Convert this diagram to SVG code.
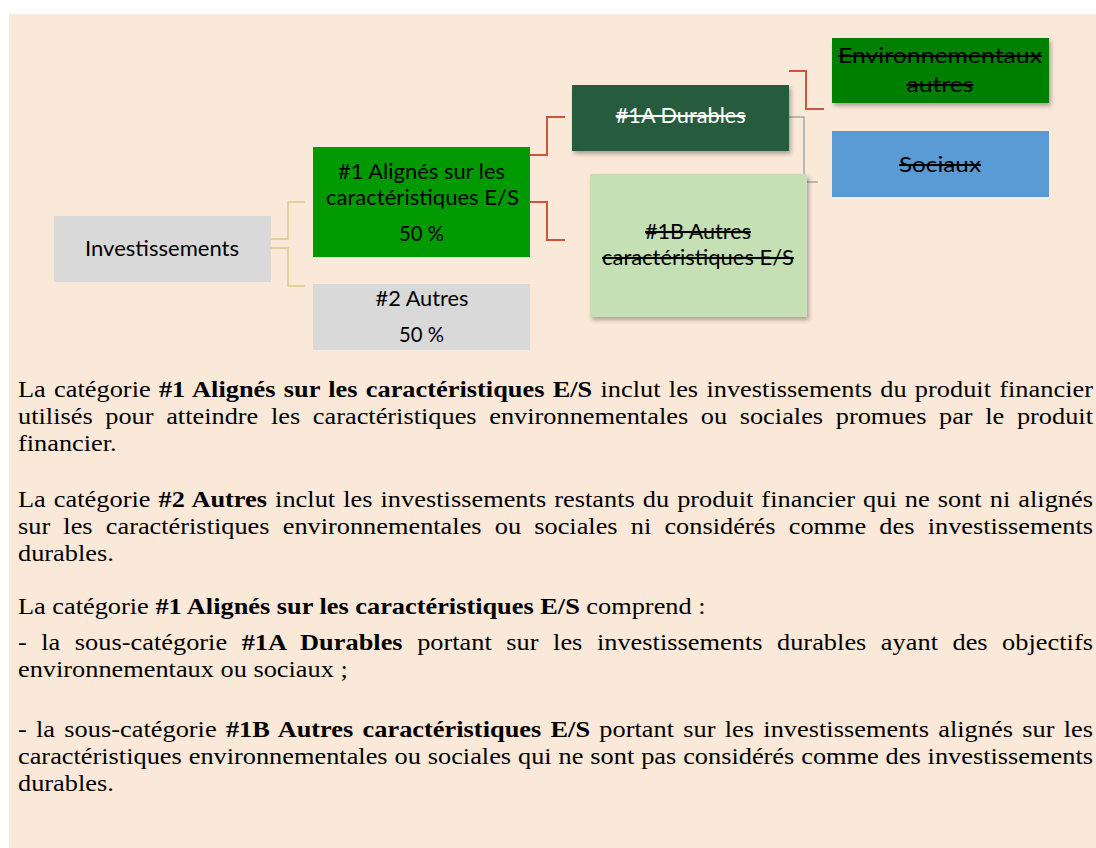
<svg xmlns="http://www.w3.org/2000/svg" width="1096" height="848" viewBox="0 0 1096 848">
<defs>
<filter id="sh" x="-10%" y="-10%" width="130%" height="140%">
<feDropShadow dx="2" dy="3" stdDeviation="2" flood-color="#000" flood-opacity="0.3"/>
</filter>
<style>
.lbl{font-family:Lato,"Liberation Sans",sans-serif;font-size:21px;fill:#000;text-anchor:middle}
.st{text-decoration:line-through}
.w{fill:#fff}
.yl{fill:none;stroke:#d6cc80;stroke-width:1.5}
.rd{fill:none;stroke:#d0543a;stroke-width:2}
.gy{fill:none;stroke:#a6a6a6;stroke-width:1.5}
.body{font-family:"Liberation Serif","Times New Roman",serif;font-size:22.7px;fill:#000}
.b{font-weight:bold}
</style>
</defs>
<rect x="0" y="0" width="1096" height="848" fill="#ffffff"/>
<rect x="9" y="14" width="1087" height="834" fill="#fae8d8"/>

<g id="connectors">
<path class="yl" d="M271,239 H288 V202 H305"/>
<path class="yl" d="M271,248 H288 V286 H305"/>
<path class="rd" d="M530,155 H547 V117 H565"/>
<path class="rd" d="M530,202 H547 V240 H565"/>
<path class="rd" d="M789,71 H806 V109 H824"/>
<path class="gy" d="M789,117 H804 V182 H818"/>
</g>

<g id="investissements">
<rect x="54" y="216" width="217" height="66" fill="#d9d9d9"/>
<text class="lbl" x="162" y="256" textLength="154" lengthAdjust="spacingAndGlyphs">Investissements</text>
</g>

<g id="n1">
<rect x="313" y="147" width="217" height="110" fill="#009900"/>
<text class="lbl" x="421.5" y="179" textLength="167" lengthAdjust="spacingAndGlyphs">#1 Alignés sur les</text>
<text class="lbl" x="422.5" y="205" textLength="193" lengthAdjust="spacingAndGlyphs">caractéristiques E/S</text>
<text class="lbl" x="421.5" y="241" textLength="45" lengthAdjust="spacingAndGlyphs">50 %</text>
</g>

<g id="n2">
<rect x="313" y="284" width="217" height="66" fill="#d9d9d9"/>
<text class="lbl" x="422" y="306" textLength="93" lengthAdjust="spacingAndGlyphs">#2 Autres</text>
<text class="lbl" x="421.5" y="342" textLength="45" lengthAdjust="spacingAndGlyphs">50 %</text>
</g>

<g id="n1a">
<rect x="572" y="85" width="217" height="66" fill="#265c3c" filter="url(#sh)"/>
<text class="lbl st w" x="680.7" y="123" textLength="130" lengthAdjust="spacingAndGlyphs">#1A Durables</text>
</g>

<g id="n1b">
<rect x="590" y="174" width="217" height="143" fill="#c5e0b4" filter="url(#sh)"/>
<text class="lbl st" x="698" y="239" textLength="106" lengthAdjust="spacingAndGlyphs">#1B Autres</text>
<text class="lbl st" x="698" y="265" textLength="192" lengthAdjust="spacingAndGlyphs">caractéristiques E/S</text>
</g>

<g id="env">
<rect x="832" y="38" width="217" height="65" fill="#008000" filter="url(#sh)"/>
<text class="lbl st" x="940" y="63" textLength="204" lengthAdjust="spacingAndGlyphs">Environnementaux</text>
<text class="lbl st" x="940" y="92" textLength="67" lengthAdjust="spacingAndGlyphs">autres</text>
</g>

<g id="sociaux">
<rect x="832" y="131" width="217" height="66" fill="#5b9bd5"/>
<text class="lbl st" x="940" y="172" textLength="82" lengthAdjust="spacingAndGlyphs">Sociaux</text>
</g>

<g id="text" class="body" transform="scale(1.16,1)">
<text x="15.52" y="397" word-spacing="1.4" textLength="926.7" lengthAdjust="spacing">La catégorie <tspan class="b">#1 Alignés sur les caractéristiques E/S</tspan> inclut les investissements du produit financier</text>
<text x="15.52" y="424" word-spacing="5.2" textLength="926.7" lengthAdjust="spacing">utilisés pour atteindre les caractéristiques environnementales ou sociales promues par le produit</text>
<text x="15.52" y="451">financier.</text>

<text x="15.52" y="507" word-spacing="1.2" textLength="926.7" lengthAdjust="spacing">La catégorie <tspan class="b">#2 Autres</tspan> inclut les investissements restants du produit financier qui ne sont ni alignés</text>
<text x="15.52" y="534" word-spacing="5.67" textLength="926.7" lengthAdjust="spacing">sur les caractéristiques environnementales ou sociales ni considérés comme des investissements</text>
<text x="15.52" y="561">durables.</text>

<text x="15.52" y="614">La catégorie <tspan class="b">#1 Alignés sur les caractéristiques E/S</tspan> comprend :</text>

<text x="15.52" y="650" word-spacing="6.8" textLength="926.7" lengthAdjust="spacing">- la sous-catégorie <tspan class="b">#1A Durables</tspan> portant sur les investissements durables ayant des objectifs</text>
<text x="15.52" y="677">environnementaux ou sociaux ;</text>

<text x="15.52" y="737" word-spacing="2.27" textLength="926.7" lengthAdjust="spacing">- la sous-catégorie <tspan class="b">#1B Autres caractéristiques E/S</tspan> portant sur les investissements alignés sur les</text>
<text x="15.52" y="764" word-spacing="0.28" textLength="926.7" lengthAdjust="spacing">caractéristiques environnementales ou sociales qui ne sont pas considérés comme des investissements</text>
<text x="15.52" y="791">durables.</text>
</g>
</svg>
